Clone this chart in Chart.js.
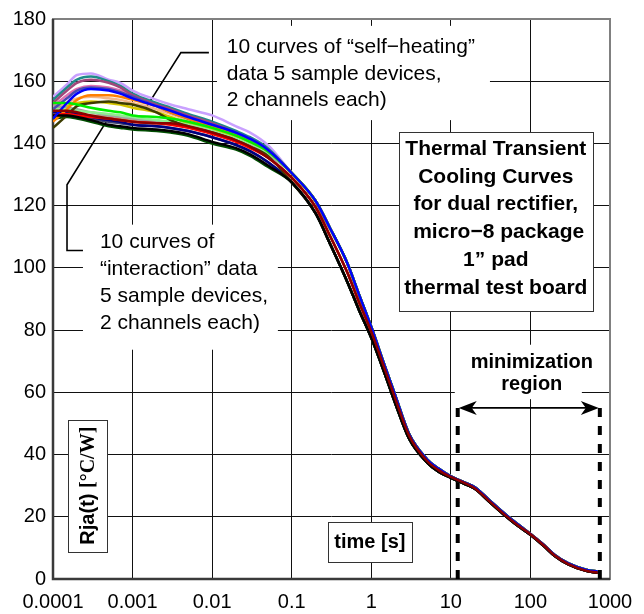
<!DOCTYPE html>
<html>
<head>
<meta charset="utf-8">
<script src="https://cdn.jsdelivr.net/npm/chart.js@4"></script>
<style>
  html, body { margin: 0; padding: 0; background: #fff; }
  #wrap { width: 644px; height: 614px; }
</style>
</head>
<body>
<div id="wrap"><canvas id="chartRja" width="644" height="614"></canvas></div>
<script>
const SANS = "'Liberation Sans', Arial, Helvetica, sans-serif";
const SERIF = "'Liberation Serif', 'Times New Roman', serif";

// time [s] where values were read
const headTimes = [0.0001, 0.00015, 0.0002, 0.0003, 0.0005, 0.0007, 0.001, 0.002, 0.003, 0.005, 0.01, 0.02, 0.03, 0.05];
const tailTimes = [0.1, 0.2, 0.3, 0.5, 0.7, 1, 1.5, 2, 3, 5, 7, 10, 15, 20, 30, 50, 70, 100, 150, 200, 300, 500, 700];

// after ~0.1 s the curves fall into three bundles
const tailUpper = [130.5, 121.5, 113, 101.5, 91.5, 81, 68, 59, 46.5, 38.5, 35.5, 33, 31, 29.5, 25.5, 20.5, 17.5, 14.5, 10.8, 7.8, 5, 3, 2.4];
const tailMid   = [129, 119.5, 110.5, 98.5, 89, 79.5, 67, 58, 46, 38, 35, 32.8, 30.8, 29.2, 25.2, 20.2, 17.2, 14.4, 10.6, 7.6, 4.8, 2.7, 2.1];
const tailLower = [127.5, 117.5, 108, 95.5, 86.5, 77.5, 65.5, 56.5, 45, 37.5, 34.5, 32.5, 30.5, 29, 25, 20, 17, 14.2, 10.4, 7.5, 4.7, 2.6, 2];

// "self-heating" curves, early part
const sh1  = [155, 159, 162, 162.5, 160.5, 159.5, 157, 154, 152.5, 151, 149, 145.5, 143.5, 139.5];
const sh2  = [154, 158, 160.5, 161.5, 160, 158.5, 156, 153, 151.5, 149.5, 147, 144, 142, 138.5];
const sh3  = [153, 157, 159.5, 160.5, 159.5, 158, 155.5, 152.5, 151, 149, 146.5, 143.5, 141.5, 138];
const sh4  = [151, 154.5, 157, 158, 157.5, 156.5, 155, 152, 150, 148, 145.5, 143, 141, 137.5];
const sh5  = [148, 153, 156, 157.5, 157, 156, 154.5, 152, 150.5, 148.5, 146, 143.5, 141.5, 138];
const sh6  = [147, 151, 154, 155.5, 155.5, 155, 154, 152, 150, 148, 145.5, 142.5, 140.5, 137.5];
const sh7  = [151, 153, 154.5, 155, 154.5, 154, 153, 151, 149.5, 147.5, 145.5, 143, 141, 138];
const sh8  = [152, 155.5, 157.5, 158.5, 158, 157, 155.5, 152.5, 150.5, 148.5, 146, 143, 141, 138];
const sh9  = [145, 149, 152, 153, 153.5, 153, 152.5, 150, 147.5, 145.5, 143.5, 141, 139, 136];
const sh10 = [150, 152, 153, 153.5, 153, 152.5, 151.5, 150, 148.5, 146.5, 144.5, 142, 140, 137];

// "interaction" curves, early part
const in1  = [153, 153, 152.5, 151.5, 150.5, 150, 149, 148.5, 148, 147, 145, 142.5, 140.5, 137.5];
const in2  = [151, 151, 150.5, 150, 149.5, 149, 148.5, 147.5, 147, 146, 144, 141.5, 140, 137];
const in3  = [152, 151.5, 151, 150, 149, 148.5, 148, 147, 146.5, 145.5, 143.5, 141, 139.5, 136.5];
const in4  = [150.5, 150.5, 150, 149, 148, 147.5, 147, 146.5, 146.5, 145.5, 143.5, 141, 139, 135.5];
const in5  = [149, 149.5, 149, 148.5, 148, 147.5, 147, 146.5, 146, 145, 143, 140.5, 138.5, 135.5];
const in6  = [150, 150, 149.5, 148.5, 147.5, 147, 146, 145.5, 145, 144, 142, 139.5, 137.5, 134];
const in7  = [149, 149, 148.5, 147.5, 146, 145.5, 145, 144.5, 144, 143, 140.5, 138.5, 136.5, 133];
const in8  = [148, 148.5, 148, 147, 145.5, 145, 144.5, 144, 143.5, 142.5, 140, 138, 136, 132.5];
const in9  = [150, 150, 149.5, 149, 148.5, 148, 147.5, 147, 146.5, 145.5, 143.5, 141, 139, 135.5];
const in10 = [149.5, 149.5, 149, 148, 147, 146.5, 146, 145.5, 145, 144, 142, 139.5, 137.5, 134];

const xTicks = [0.0001, 0.001, 0.01, 0.1, 1, 10, 100, 1000];
const xTickLabels = ["0.0001", "0.001", "0.01", "0.1", "1", "10", "100", "1000"];
const yTicks = [0, 20, 40, 60, 80, 100, 120, 140, 160, 180];

// first in list = drawn on top
const curves = [
  { head: in4,  tail: tailMid,   color: "#8b0000" },
  { head: sh5,  tail: tailUpper, color: "#0000ff" },
  { head: in7,  tail: tailLower, color: "#000000" },
  { head: in5,  tail: tailMid,   color: "#ff0000" },
  { head: in1,  tail: tailUpper, color: "#00ee00" },
  { head: sh6,  tail: tailUpper, color: "#ff7f00" },
  { head: sh9,  tail: tailLower, color: "#3c3c00" },
  { head: in8,  tail: tailLower, color: "#004d00" },
  { head: in6,  tail: tailLower, color: "#000080" },
  { head: sh4,  tail: tailUpper, color: "#4a4ab0" },
  { head: sh3,  tail: tailUpper, color: "#a0487a" },
  { head: sh2,  tail: tailUpper, color: "#1f8a8a" },
  { head: in2,  tail: tailUpper, color: "#90ee90" },
  { head: in3,  tail: tailUpper, color: "#a0a0a0" },
  { head: in9,  tail: tailMid,   color: "#c8a070" },
  { head: in10, tail: tailLower, color: "#404070" },
  { head: sh10, tail: tailUpper, color: "#d4c400" },
  { head: sh8,  tail: tailUpper, color: "#e070b0" },
  { head: sh7,  tail: tailUpper, color: "#f4b88a" },
  { head: sh1,  tail: tailUpper, color: "#c9a0ff" }
];

const times = headTimes.concat(tailTimes);
const datasets = curves.map((c, i) => {
  const vals = c.head.concat(c.tail);
  return {
    label: "curve " + (i + 1),
    data: times.map((t, k) => ({ x: t, y: vals[k] })),
    borderColor: c.color,
    borderWidth: 2.5,
    pointRadius: 0,
    fill: false,
    cubicInterpolationMode: "monotone"
  };
});

function drawLines(ctx, lines, x, y, step) {
  lines.forEach((s, i) => ctx.fillText(s, x, y + i * step));
}

const notes = {
  id: "notes",
  beforeDatasetsDraw(chart) {
    const { ctx, chartArea: a, scales: { x, y } } = chart;
    const px = v => x.getPixelForValue(v);
    const py = v => y.getPixelForValue(v);
    ctx.save();

    // white patches behind the free text
    ctx.fillStyle = "#fff";
    [[0.0115, 177.8, 31, 147.5], [0.000238, 113.9, 0.067, 73.7], [11.2, 75.3, 443, 57.8]]
      .forEach(([t0, v0, t1, v1]) => ctx.fillRect(px(t0), py(v0), px(t1) - px(t0), py(v1) - py(v0)));

    // framed boxes
    ctx.strokeStyle = "#333";
    ctx.lineWidth = 1;
    [[2.22, 143.6, 608, 86.2], [0.000154, 51.1, 0.000477, 8.6], [0.285, 18.2, 3.24, 5.4]]
      .forEach(([t0, v0, t1, v1]) => {
        const r = [Math.round(px(t0)) + 0.5, Math.round(py(v0)) + 0.5, Math.round(px(t1) - px(t0)), Math.round(py(v1) - py(v0))];
        ctx.fillRect(...r);
        ctx.strokeRect(...r);
      });

    // frame
    ctx.strokeStyle = "#808080";
    ctx.lineWidth = 2;
    ctx.strokeRect(a.left, a.top, a.right - a.left, a.bottom - a.top);
    ctx.strokeStyle = "#3a3a3a";
    ctx.lineWidth = 2.5;
    ctx.beginPath();
    ctx.moveTo(a.left, a.top);
    ctx.lineTo(a.left, a.bottom);
    ctx.lineTo(a.right, a.bottom);
    ctx.stroke();

    // leader lines
    ctx.strokeStyle = "#000";
    ctx.lineWidth = 1.6;
    ctx.beginPath();
    ctx.moveTo(px(0.0091), py(169.2));
    ctx.lineTo(px(0.00405), py(169.2));
    ctx.lineTo(px(0.00152), py(152));
    ctx.moveTo(px(0.000238), py(105.6));
    ctx.lineTo(px(0.00015), py(105.6));
    ctx.lineTo(px(0.00015), py(126.7));
    ctx.lineTo(px(0.00048), py(147.5));
    ctx.stroke();

    // free text
    ctx.fillStyle = "#000";
    ctx.textBaseline = "middle";
    ctx.textAlign = "left";
    ctx.font = "21px " + SANS;
    drawLines(ctx, ["10 curves of \u201cself\u2212heating\u201d", "data 5 sample devices,", "2 channels each)"],
      px(0.0153), py(170.9), 26.5);
    drawLines(ctx, ["10 curves of", "\u201cinteraction\u201d data", "5 sample devices,", "2 channels each)"],
      px(0.000389), py(108.2), 27);

    ctx.textAlign = "center";
    ctx.font = "bold 21px " + SANS;
    drawLines(ctx, ["Thermal Transient", "Cooling Curves", "for dual rectifier,", " micro\u22128 package", "1\u201d pad", "thermal test board"],
      px(36.7), py(138.2), 27.8);
    ctx.font = "bold 20px " + SANS;
    drawLines(ctx, ["minimization", "region"], px(104), py(69.6), 22);
    ctx.fillText("time [s]", px(0.96), py(11.8));

    // rotated y label
    ctx.save();
    ctx.translate(px(0.000275), py(30));
    ctx.rotate(-Math.PI / 2);
    ctx.textAlign = "left";
    const p1 = "Rja(t) ", p2 = "[\u00b0C/W]";
    ctx.font = "bold 20px " + SANS;
    const w1 = ctx.measureText(p1).width;
    ctx.font = "bold 20px " + SERIF;
    const w2 = ctx.measureText(p2).width;
    const x0 = -(w1 + w2) / 2;
    ctx.font = "bold 20px " + SANS;
    ctx.fillText(p1, x0, 1);
    ctx.font = "bold 20px " + SERIF;
    ctx.fillText(p2, x0 + w1, 1);
    ctx.restore();

    // minimization region: dashed bounds and double arrow
    const xa = px(12.2), xb = px(745), ya = py(55), y0 = py(0);
    ctx.lineWidth = 4;
    ctx.setLineDash([9, 9]);
    ctx.beginPath();
    ctx.moveTo(xa, ya); ctx.lineTo(xa, y0);
    ctx.moveTo(xb, ya); ctx.lineTo(xb, y0);
    ctx.stroke();
    ctx.setLineDash([]);
    ctx.lineWidth = 1.6;
    ctx.beginPath();
    ctx.moveTo(xa + 4, ya); ctx.lineTo(xb - 4, ya);
    ctx.stroke();
    [[xa, 1], [xb, -1]].forEach(([xx, d]) => {
      ctx.beginPath();
      ctx.moveTo(xx + d * 1, ya);
      ctx.lineTo(xx + d * 19, ya - 7);
      ctx.lineTo(xx + d * 14, ya);
      ctx.lineTo(xx + d * 19, ya + 7);
      ctx.closePath();
      ctx.fill();
    });

    ctx.restore();
  }
};

new Chart(document.getElementById("chartRja"), {
  type: "line",
  data: { datasets },
  options: {
    responsive: false,
    animation: false,
    devicePixelRatio: 1,
    layout: { padding: { top: 15, right: 34, left: 0, bottom: 0 } },
    plugins: { legend: { display: false }, tooltip: { enabled: false } },
    scales: {
      x: {
        type: "logarithmic",
        min: 0.0001,
        max: 1000,
        afterBuildTicks: s => { s.ticks = xTicks.map(v => ({ value: v })); },
        afterFit: s => { s.height = 35; },
        grid: { color: "#111", lineWidth: 1, drawTicks: false },
        border: { display: false },
        ticks: {
          autoSkip: false,
          maxRotation: 0,
          padding: 11,
          color: "#000",
          font: { family: SANS, size: 20 },
          callback: (v, i) => xTickLabels[i]
        }
      },
      y: {
        min: 0,
        max: 180,
        afterBuildTicks: s => { s.ticks = yTicks.map(v => ({ value: v })); },
        afterFit: s => { s.width = 53; },
        grid: { color: "#111", lineWidth: 1, drawTicks: false },
        border: { display: false },
        ticks: {
          padding: 7,
          color: "#000",
          font: { family: SANS, size: 20 }
        }
      }
    }
  },
  plugins: [notes]
});
</script>
</body>
</html>
